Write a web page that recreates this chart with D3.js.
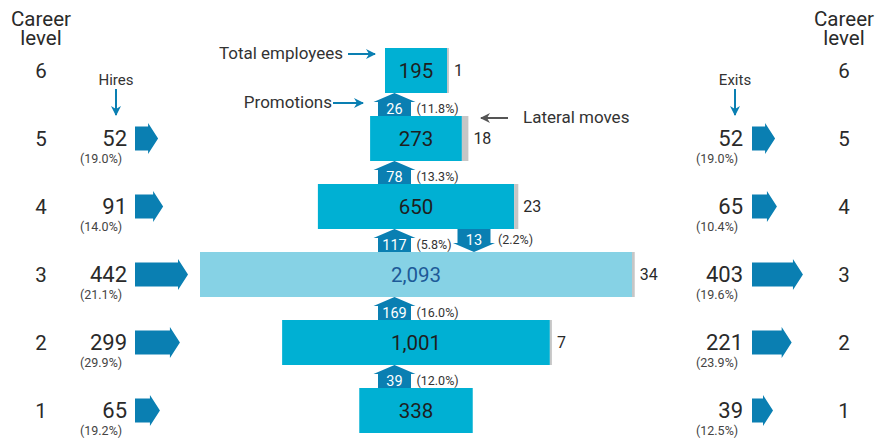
<!DOCTYPE html>
<html>
<head>
<meta charset="utf-8">
<script src="https://cdn.jsdelivr.net/npm/d3@7"></script>
<style>
  body { margin: 0; background: #fff; }
  text { font-family: Roboto, "Noto Sans", sans-serif; }
</style>
</head>
<body>
<div id="content"></div>
<script>
// career levels, top to bottom
const levels = [6, 5, 4, 3, 2, 1]
const totals = [195, 273, 650, 2093, 1001, 338]
const lateral = [1, 18, 23, 34, 7, null]
const hires = [null, 52, 91, 442, 299, 65]
const hiresPct = [null, 19.0, 14.0, 21.1, 29.9, 19.2]
const exits = [null, 52, 65, 403, 221, 39]
const exitsPct = [null, 19.0, 10.4, 19.6, 23.9, 12.5]
const highlightLevel = 3

// promotions go from level to level + 1
const promoFrom = [5, 4, 3, 2, 1]
const promoValues = [26, 78, 117, 169, 39]
const promoPct = [11.8, 13.3, 5.8, 16.0, 12.0]

// moves down a level
const demoFrom = [4]
const demoValues = [13]
const demoPct = [2.2]

const rows = levels.map((l, i) => ({
    level: l, total: totals[i], lateral: lateral[i],
    hires: hires[i], hiresPct: hiresPct[i],
    exits: exits[i], exitsPct: exitsPct[i]
}))

const blue = "#00b0d3"
const lightBlue = "#86d2e5"
const arrowBlue = "#0a7fb2"
const grey = "#c6c6c6"
const ink = "#2a2a2a"

const outerWidth = 876
const outerHeight = 442
const centerX = 416
const barH = 45

const svg = d3.select("#content").append("svg")
    .attr("width", outerWidth)
    .attr("height", outerHeight)

const defs = svg.append("defs")
const marker = (id, color) => defs.append("marker")
    .attr("id", id)
    .attr("viewBox", "0 0 10 10")
    .attr("refX", 9).attr("refY", 5)
    .attr("markerWidth", 5).attr("markerHeight", 5)
    .attr("markerUnits", "strokeWidth")
    .attr("orient", "auto")
  .append("path")
    .attr("d", "M0,0 L10,5 L0,10 L3,5 Z")
    .attr("fill", color)
marker("headBlue", arrowBlue)
marker("headGrey", "#555")

// scales
const yScale = d3.scalePoint()
    .domain(levels)
    .range([70.5, 410.5])
const widthScale = d3.scaleSqrt()
    .domain([195, 2093])
    .range([62, 432])
const lateralScale = d3.scaleLinear()
    .domain([0, 0.066])
    .range([1.5, 6.5])
const flowScale = d3.scaleSqrt()
    .domain([39, 442])
    .range([21, 53])

// career level columns
const levelCols = [41, 844]
levelCols.forEach(x => {
    svg.append("text").attr("x", x).attr("y", 26)
        .attr("text-anchor", "middle").style("font-size", "20.5px").attr("fill", ink)
        .text("Career")
    svg.append("text").attr("x", x).attr("y", 45)
        .attr("text-anchor", "middle").style("font-size", "20.5px").attr("fill", ink)
        .text("level")
    svg.selectAll(null).data(rows).enter().append("text")
        .attr("x", x)
        .attr("y", d => yScale(d.level))
        .attr("dy", "0.36em")
        .attr("text-anchor", "middle")
        .style("font-size", "20.5px")
        .attr("fill", ink)
        .text(d => d.level)
})

// bars
const bar = svg.selectAll(".bar")
    .data(rows)
    .enter().append("g")
    .attr("class", "bar")

bar.append("rect")
    .attr("x", d => centerX - widthScale(d.total) / 2)
    .attr("y", d => yScale(d.level) - barH / 2)
    .attr("width", d => widthScale(d.total))
    .attr("height", barH)
    .attr("fill", d => d.level === highlightLevel ? lightBlue : blue)

bar.filter(d => d.lateral != null).append("rect")
    .attr("x", d => centerX + widthScale(d.total) / 2)
    .attr("y", d => yScale(d.level) - barH / 2)
    .attr("width", d => lateralScale(d.lateral / d.total))
    .attr("height", barH)
    .attr("fill", grey)

bar.append("text")
    .attr("x", centerX)
    .attr("y", d => yScale(d.level))
    .attr("dy", "0.36em")
    .attr("text-anchor", "middle")
    .style("font-size", "20.5px")
    .attr("fill", d => d.level === highlightLevel ? "#1d5a98" : "#1e1e1e")
    .text(d => d3.format(",")(d.total))

bar.filter(d => d.lateral != null).append("text")
    .attr("x", d => centerX + widthScale(d.total) / 2 + lateralScale(d.lateral / d.total) + 5)
    .attr("y", d => yScale(d.level))
    .attr("dy", "0.36em")
    .style("font-size", "16px")
    .attr("fill", ink)
    .text(d => d.lateral)

// promotion / demotion arrows between bars
const promoX = 394.5
const demoX = 474
const verticalArrow = (cx, yTip, yTail) => {
    const dir = yTail > yTip ? 1 : -1
    const hb = yTip + dir * 9
    return `M${cx - 16.5},${yTail} L${cx - 16.5},${hb} L${cx - 21},${hb} L${cx},${yTip}` +
        ` L${cx + 21},${hb} L${cx + 16.5},${hb} L${cx + 16.5},${yTail} Z`
}

const promos = promoFrom.map((f, i) => ({from: f, value: promoValues[i], pct: promoPct[i]}))
const promo = svg.selectAll(".promo").data(promos).enter().append("g").attr("class", "promo")
promo.append("path")
    .attr("d", d => verticalArrow(promoX, yScale(d.from + 1) + barH / 2, yScale(d.from) - barH / 2))
    .attr("fill", arrowBlue)
promo.append("text")
    .attr("x", promoX)
    .attr("y", d => yScale(d.from) - barH / 2 - 2.5)
    .attr("text-anchor", "middle")
    .style("font-size", "14.5px")
    .attr("fill", "#fff")
    .text(d => d.value)
promo.append("text")
    .attr("x", promoX + 22)
    .attr("y", d => yScale(d.from) - barH / 2 - 3)
    .style("font-size", "12.5px")
    .attr("fill", "#333")
    .text(d => `(${d.pct.toFixed(1)}%)`)

const demos = demoFrom.map((f, i) => ({from: f, value: demoValues[i], pct: demoPct[i]}))
const demo = svg.selectAll(".demo").data(demos).enter().append("g").attr("class", "demo")
demo.append("path")
    .attr("d", d => verticalArrow(demoX, yScale(d.from - 1) - barH / 2, yScale(d.from) + barH / 2))
    .attr("fill", arrowBlue)
demo.append("text")
    .attr("x", demoX)
    .attr("y", d => yScale(d.from) + barH / 2 + 15.5)
    .attr("text-anchor", "middle")
    .style("font-size", "14.5px")
    .attr("fill", "#fff")
    .text(d => d.value)
demo.append("text")
    .attr("x", demoX + 24)
    .attr("y", d => yScale(d.from) + barH / 2 + 15)
    .style("font-size", "12.5px")
    .attr("fill", "#333")
    .text(d => `(${d.pct.toFixed(1)}%)`)

// hires and exits
const flowArrow = (x0, yc, len) =>
    `M${x0},${yc - 12} L${x0 + len - 10},${yc - 12} L${x0 + len - 10},${yc - 15.5} L${x0 + len},${yc}` +
    ` L${x0 + len - 10},${yc + 15.5} L${x0 + len - 10},${yc + 12} L${x0},${yc + 12} Z`

const flows = [
    {key: "hires", pctKey: "hiresPct", label: "Hires", numX: 127, pctX: 80, arrowX: 135, labelX: 116},
    {key: "exits", pctKey: "exitsPct", label: "Exits", numX: 743, pctX: 696, arrowX: 752, labelX: 735}
]

flows.forEach(f => {
    const sub = rows.filter(d => d[f.key] != null)
    const g = svg.append("g")
    g.selectAll("path").data(sub).enter().append("path")
        .attr("d", d => flowArrow(f.arrowX, yScale(d.level), flowScale(d[f.key])))
        .attr("fill", arrowBlue)
    g.selectAll(".num").data(sub).enter().append("text")
        .attr("x", f.numX)
        .attr("y", d => yScale(d.level) + 7.5)
        .attr("text-anchor", "end")
        .style("font-size", "22px")
        .attr("fill", ink)
        .text(d => d[f.key])
    g.selectAll(".pct").data(sub).enter().append("text")
        .attr("x", f.pctX)
        .attr("y", d => yScale(d.level) + 24)
        .style("font-size", "12.5px")
        .attr("fill", "#444")
        .text(d => `(${d[f.pctKey].toFixed(1)}%)`)

    g.append("text")
        .attr("x", f.labelX).attr("y", 85)
        .attr("text-anchor", "middle")
        .style("font-size", "15px")
        .attr("fill", "#333")
        .text(f.label)
    g.append("line")
        .attr("x1", f.labelX).attr("x2", f.labelX)
        .attr("y1", 89).attr("y2", 115)
        .attr("stroke", arrowBlue).attr("stroke-width", 2)
        .attr("marker-end", "url(#headBlue)")
})

// annotations
svg.append("text").attr("x", 343).attr("y", 59)
    .attr("text-anchor", "end").style("font-size", "17px").attr("fill", "#333")
    .text("Total employees")
svg.append("line").attr("x1", 348).attr("x2", 375).attr("y1", 54).attr("y2", 54)
    .attr("stroke", arrowBlue).attr("stroke-width", 2).attr("marker-end", "url(#headBlue)")

svg.append("text").attr("x", 332).attr("y", 108)
    .attr("text-anchor", "end").style("font-size", "17px").attr("fill", "#333")
    .text("Promotions")
svg.append("line").attr("x1", 333).attr("x2", 363).attr("y1", 103).attr("y2", 103)
    .attr("stroke", arrowBlue).attr("stroke-width", 2).attr("marker-end", "url(#headBlue)")

svg.append("text").attr("x", 523).attr("y", 123)
    .style("font-size", "17px").attr("fill", "#333")
    .text("Lateral moves")
svg.append("line").attr("x1", 508).attr("x2", 481).attr("y1", 118).attr("y2", 118)
    .attr("stroke", "#555").attr("stroke-width", 2).attr("marker-end", "url(#headGrey)")
</script>
</body>
</html>
